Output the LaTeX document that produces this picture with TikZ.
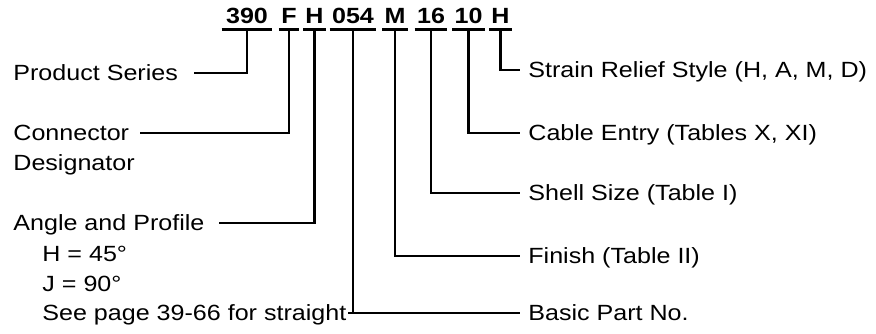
\documentclass[tikz,border=0pt]{standalone}
\usepackage{fontspec}
\setmainfont{Liberation Sans}[FakeStretch=1.14]
\begin{document}
\begin{tikzpicture}[x=1pt,y=-1pt,line width=2.8pt,
  every node/.style={font=\fontsize{22}{26}\selectfont},
  code/.style={font=\fontsize{22}{26}\selectfont\bfseries,inner xsep=1pt,inner ysep=5pt,text height=15pt,text depth=0pt},
  lbl/.style={anchor=west,inner sep=0pt,text height=15pt,text depth=0pt},
  rlbl/.style={lbl,inner xsep=7pt}]
  \useasboundingbox (0,0) rectangle (876,333);
  % the part number
  \node[code,inner xsep=3pt] (ser) at (247,15.5) {390};
  \node[code] (des) at (289,15.5) {F};
  \node[code] (ang) at (314.5,15.5) {H};
  \node[code] (bpn) at (353,15.5) {054};
  \node[code] (fin) at (395,15.5) {M};
  \node[code] (shl) at (431,15.5) {16};
  \node[code] (cab) at (468.5,15.5) {10};
  \node[code] (srs) at (500.5,15.5) {H};
  \foreach \n in {ser,des,ang,bpn,fin,shl,cab,srs}
    \draw (\n.south west) -- (\n.south east);
  % left side
  \node[lbl] (ps) at (12,73) {Product Series};
  \node[lbl] (cd) at (12,133) {Connector};
  \node[lbl] (cd2) at (12,163) {Designator};
  \node[lbl] (ap) at (12,223) {Angle and Profile};
  \node[lbl] (ap1) at (41,254) {H = 45°};
  \node[lbl] (ap2) at (41,284) {J = 90°};
  \node[lbl] (ap3) at (41,313) {See page 39-66 for straight};
  \coordinate (psend) at (194,73);
  \coordinate (cdend) at (140,133);
  \coordinate (apend) at (219,223);
  \coordinate (bpend) at (348,313);
  \draw (ser.south) |- (psend);
  \draw (des.south) |- (cdend);
  \draw (ang.south) |- (apend);
  \draw (bpn.south) |- (bpend);
  % right side
  \node[rlbl] (srl) at (520,70) {Strain Relief Style (H, A, M, D)};
  \node[rlbl] (cel) at (520,133) {Cable Entry (Tables X, XI)};
  \node[rlbl] (ssl) at (520,193) {Shell Size (Table I)};
  \node[rlbl] (fnl) at (520,256) {Finish (Table II)};
  \node[rlbl] (bpl) at (520,313) {Basic Part No.};
  \draw (srs.south) |- (srl.west);
  \draw (cab.south) |- (cel.west);
  \draw (shl.south) |- (ssl.west);
  \draw (fin.south) |- (fnl.west);
  \draw (bpn.south) |- (bpl.west);
\end{tikzpicture}
\end{document}
